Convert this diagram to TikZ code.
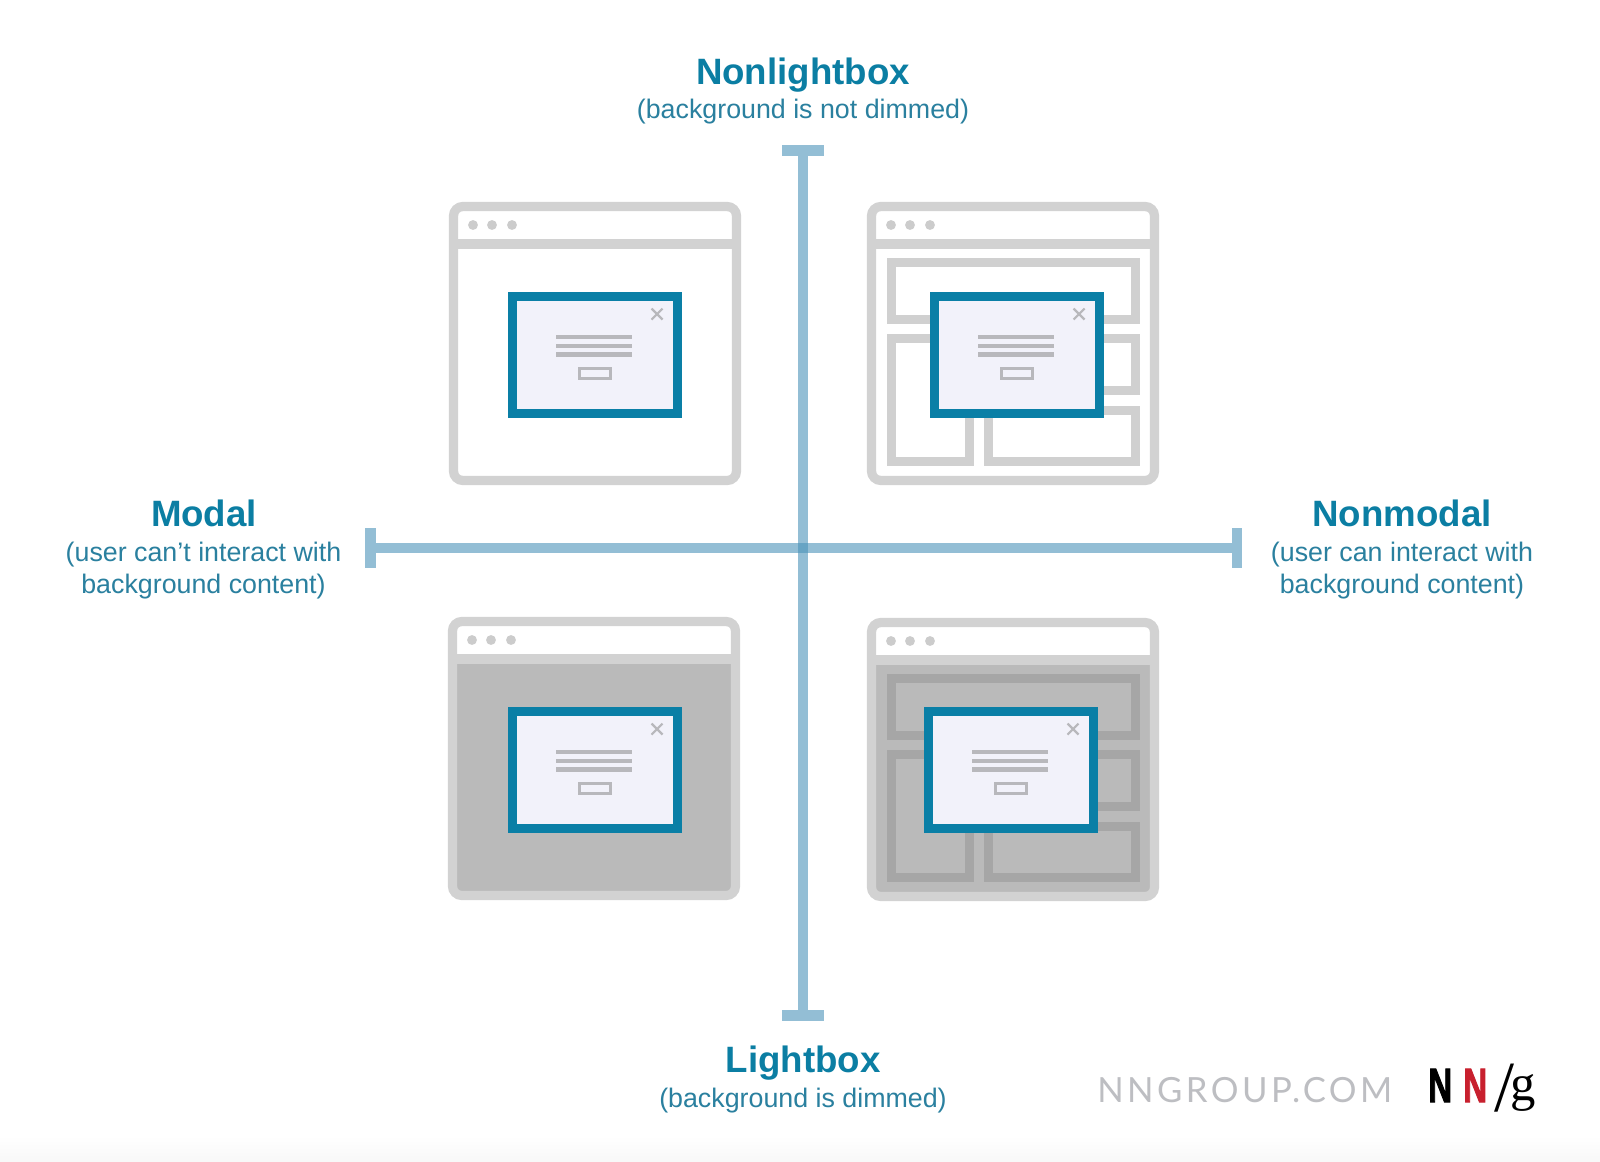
\documentclass[tikz,border=0pt]{standalone}
\usepackage{fontspec}
\setmainfont{Liberation Sans}
\newfontfamily\nnwordfont[LetterSpace=10]{Lato}
\newfontfamily\nnserif{Liberation Serif}
\newfontfamily\nnheavy[BoldFeatures={FakeBold=2.5}]{Liberation Sans}
\usetikzlibrary{calc}
\definecolor{framegray}{HTML}{D2D2D2}
\definecolor{dimgray}{HTML}{BABABA}
\definecolor{panelgraylight}{HTML}{D0D0D0}
\definecolor{panelgraydark}{HTML}{A6A6A6}
\definecolor{dotgray}{HTML}{CCCCCC}
\definecolor{dialogblue}{HTML}{0A7FA6}
\definecolor{dialogfill}{HTML}{F2F2FA}
\definecolor{dialogmark}{HTML}{B8B8BC}
\definecolor{axisblue}{RGB}{75,148,185}
\definecolor{headblue}{HTML}{0B7EA3}
\definecolor{subblue}{HTML}{2A809F}
\definecolor{wordgray}{HTML}{BDBEC2}
\definecolor{nnred}{HTML}{C8202E}
\definecolor{bottomband}{HTML}{F8F8F8}
\tikzset{
  framestroke/.style={draw=framegray,line width=6.9pt,rounded corners=7pt},
  panelstroke/.style={draw=#1,line width=6.75pt,miter limit=10},
  dialogstroke/.style={draw=dialogblue,fill=dialogfill,line width=6.4pt},
  markline/.style={draw=dialogmark,line width=3.4pt},
  markbox/.style={draw=dialogmark,line width=2.3pt},
  closemark/.style={draw=dialogmark,line width=1.6pt},
  axisline/.style={draw=axisblue,opacity=0.6,line width=7.9pt},
  headtext/.style={anchor=base,text=headblue,inner sep=0pt,font=\fontsize{27.5}{27.5}\selectfont\bfseries},
  subtext/.style={anchor=base,text=subblue,inner sep=0pt,font=\fontsize{20.1}{20.1}\selectfont},
}
\newcommand{\browserframe}[3]{% x, y, dimmed 0/1
  \begin{scope}[shift={(#1,#2)}]
    \fill[white,rounded corners=7pt] (4.5,4.5) rectangle (287.5,278.5);
    \ifnum#3=1 \fill[dimgray] (9,47) rectangle (283,274); \fi
    \path[framestroke] (4.5,4.5) rectangle (287.5,278.5);
    \draw[draw=framegray,line width=7pt] (4.5,42) -- (287.5,42);
    \foreach \dx in {24,43,63} \fill[dotgray] (\dx,23) circle (3.7pt);
  \end{scope}}
\newcommand{\contentpanels}[3]{% x, y, colour
  \begin{scope}[shift={(#1,#2)}]
    \path[panelstroke=#3] (24.5,60.5) rectangle (268.5,117.5);
    \path[panelstroke=#3] (24.5,136.5) rectangle (102.5,259.5);
    \path[panelstroke=#3] (150,136.5) rectangle (268.5,188.5);
    \path[panelstroke=#3] (121.5,208.5) rectangle (268.5,259.5);
  \end{scope}}
\newcommand{\dialogpanel}[2]{% x, y
  \begin{scope}[shift={(#1,#2)}]
    \path[dialogstroke] (4.25,4.25) rectangle (169.75,121.75);
    \draw[closemark] (143.5,16.5) -- (154.5,27.5) (143.5,27.5) -- (154.5,16.5);
    \draw[markline] (48,45) -- (124,45) (48,54) -- (124,54) (48,62.5) -- (124,62.5);
    \path[markbox] (71.5,76.5) rectangle (102.5,86.5);
  \end{scope}}
\begin{document}
\begin{tikzpicture}[x=0.75pt,y=-0.75pt]
  \useasboundingbox (0,0) rectangle (1600,1161);
  \fill[white] (0,0) rectangle (1600,1161);
  \shade[top color=white,bottom color=bottomband] (0,1136) rectangle (1600,1161);

  % axes
  \coordinate (vt) at (803,150.5);
  \coordinate (vb) at (803,1015.5);
  \coordinate (vtl) at (782,150.5);
  \coordinate (vtr) at (824,150.5);
  \coordinate (vbl) at (782,1015.5);
  \coordinate (vbr) at (824,1015.5);
  \coordinate (hl) at (370.5,548);
  \coordinate (hr) at (1237,548);
  \coordinate (hlt) at (370.5,528);
  \coordinate (hlb) at (370.5,568);
  \coordinate (hrt) at (1237,528);
  \coordinate (hrb) at (1237,568);
  \draw[axisline] (vtl) -- (vtr) (vt) -- (vb) (vbl) -- (vbr);
  \draw[axisline] (hlt) -- (hlb) (hl) -- (hr) (hrt) -- (hrb);

  % windows
  \browserframe{449}{202}{0}
  \dialogpanel{508}{292}

  \browserframe{867}{202}{0}
  \contentpanels{867}{202}{panelgraylight}
  \dialogpanel{930}{292}

  \browserframe{448}{617}{1}
  \dialogpanel{508}{707}

  \browserframe{867}{618}{1}
  \contentpanels{867}{618}{panelgraydark}
  \dialogpanel{924}{707}

  % labels
  \node[headtext] (nonlightbox) at (803,84) {Nonlightbox};
  \node[subtext] (nonlightboxsub) at (803,118.5) {(background is not dimmed)};
  \node[headtext] (lightbox) at (803,1072) {Lightbox};
  \node[subtext] (lightboxsub) at (803,1107.5) {(background is dimmed)};
  \node[headtext] (modal) at (204,526) {Modal};
  \node[subtext] (modalsuba) at (203.5,561) {(user can’t interact with};
  \node[subtext] (modalsubb) at (203.5,593) {background content)};
  \node[headtext] (nonmodal) at (1402,526) {Nonmodal};
  \node[subtext] (nonmodalsuba) at (1402,561) {(user can interact with};
  \node[subtext] (nonmodalsubb) at (1402,593) {background content)};

  % branding
  \node[anchor=base west,inner sep=0pt,text=wordgray,font=\fontsize{26}{26}\selectfont\nnwordfont] (nnword) at (1097,1102) {NNGROUP.COM};
  \node[anchor=base west,inner sep=0pt,text=black,font=\fontsize{36}{36}\selectfont\nnheavy\bfseries] (nnone) at (1428,1102) {\scalebox{0.69}[1]{N}};
  \node[anchor=base west,inner sep=0pt,text=nnred,font=\fontsize{36}{36}\selectfont\nnheavy\bfseries] (nntwo) at (1463,1102) {\scalebox{0.69}[1]{N}};
  \node[anchor=base west,inner sep=0pt,text=black,font=\fontsize{54}{54}\selectfont\nnserif] (nnslashg) at (1494,1111) {/\kern-3pt\raisebox{8.25pt}{\fontsize{38}{38}\selectfont g}};
\end{tikzpicture}
\end{document}
